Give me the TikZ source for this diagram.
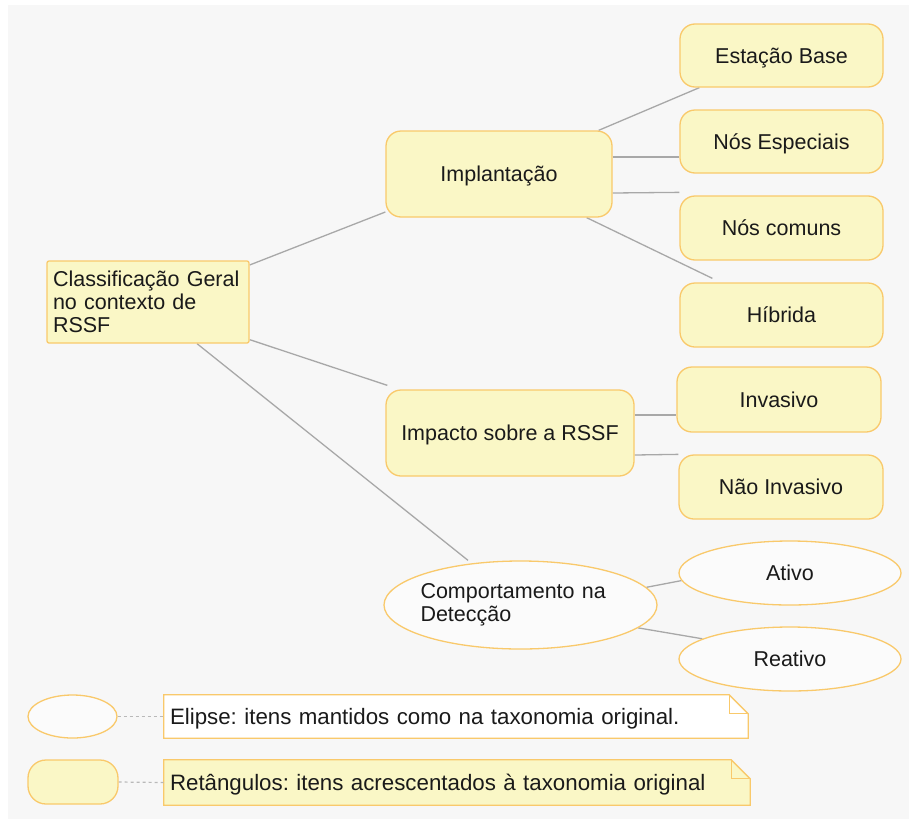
\documentclass[tikz,border=0pt]{standalone}
\usepackage{fontspec}
\setmainfont{Liberation Sans}
\frenchspacing
\usetikzlibrary{shapes.geometric,calc,backgrounds}
\definecolor{panelbg}{HTML}{F7F7F7}
\definecolor{boxfill}{HTML}{FAF7C6}
\definecolor{boxline}{HTML}{F9C96B}
\definecolor{ovalfill}{HTML}{FBFBFB}
\definecolor{linkgray}{HTML}{A8A8A8}
\definecolor{inkdark}{HTML}{1A1A1A}
\begin{document}
\begin{tikzpicture}[x=1pt,y=-1pt,
  every node/.style={font=\fontsize{21.5}{23}\selectfont, text=inkdark, inner sep=0pt},
  oneline/.style={text height=15pt, text depth=0pt},
  roundbox/.style={draw=boxline, fill=boxfill, line width=1.3pt, rounded corners=15pt,
    minimum width=#1, minimum height=64pt, align=center, oneline},
  roundbox/.default=203pt,
  ovalbox/.style={ellipse, draw=boxline, fill=ovalfill, line width=1.3pt},
  notebox/.style={rectangle, minimum height=43pt, inner xsep=6pt, align=left,
    font=\fontsize{22.3}{24}\selectfont, oneline},
  link/.style={draw=linkgray, line width=1.3pt},
  keylink/.style={draw=linkgray!80, line width=1.2pt, dash pattern=on 3pt off 3pt}
]
\useasboundingbox (0,0) rectangle (909,819);
\begin{scope}[on background layer]
  \fill[white] (0,0) rectangle (909,819);
  \fill[panelbg] (8,5) rectangle (909,819);
\end{scope}

% root of the taxonomy
\node[draw=boxline, fill=boxfill, line width=1.3pt, rounded corners=2pt,
      minimum width=202pt, minimum height=82pt, text width=190pt, align=left]
  (root) at (148,302) {Classificação Geral\\no contexto de\\RSSF};

% first level
\node[roundbox=226pt, minimum height=86pt] (impl) at (499,174) {Implantação};
\node[roundbox=248pt, minimum height=86pt] (imp) at (510,433) {Impacto sobre a RSSF};
\node[ovalbox, minimum width=273pt, minimum height=88pt, text width=200pt,
      inner xsep=-4pt, align=left] (comp) at (520.5,605)
  {Comportamento na\\Detecção};

% second level: deployment
\node[roundbox, minimum height=63pt] (est)  at (781.5,55.5)  {Estação Base};
\node[roundbox, minimum height=63pt] (nesp) at (781.5,141.5) {Nós Especiais};
\node[roundbox] (ncom) at (781.5,228) {Nós comuns};
\node[roundbox] (hib)  at (781.5,315) {Híbrida};

% second level: impact
\node[roundbox=204pt, minimum height=65pt] (inv)  at (779,399.5) {Invasivo};
\node[roundbox=204pt] (ninv) at (781,487) {Não Invasivo};

% second level: behaviour
\node[ovalbox, oneline, minimum width=222pt, minimum height=64pt] (ativo) at (790,573) {Ativo};
\node[ovalbox, oneline, minimum width=222pt, minimum height=64pt] (reat)  at (790,659) {Reativo};

% key
\node[ovalbox, minimum width=89pt, minimum height=43pt] (key1) at (72.5,716.5) {};
\node[draw=boxline, fill=boxfill, line width=1.3pt, rounded corners=18pt,
      minimum width=90pt, minimum height=44pt] (key2) at (73,782) {};
\node[notebox, minimum width=584pt, text width=572pt] (n1) at (456,716.5)
  {Elipse: itens mantidos como na taxonomia original.};
\node[notebox, minimum width=586pt, minimum height=45pt, text width=574pt] (n2) at (457,782.5)
  {Retângulos: itens acrescentados à taxonomia original};

\begin{scope}[on background layer]
  % note outlines with folded corner
  \foreach \nn/\nf in {n1/white, n2/boxfill}{
    \draw[boxline, fill=\nf, line width=1.3pt, line join=miter]
      (\nn.north west) -- ($(\nn.north east)+(-19,0)$) -- ($(\nn.north east)+(0,19)$)
      -- (\nn.south east) -- (\nn.south west) -- cycle;
    \draw[boxline, line width=1.3pt]
      ($(\nn.north east)+(-19,0)$) -- ($(\nn.north east)+(-19,19)$) -- ($(\nn.north east)+(0,19)$);
  }
  % connectors
  \path[link] ([yshift=37pt]root.east) -- ([yshift=-38pt]impl.west);
  \path[link] ([yshift=4pt]root.south east) -- ([xshift=2pt,yshift=4pt]imp.north west);
  \path[link] ([xshift=49pt]root.south) -- ([xshift=-52.5pt]comp.north);
  \path[link] ([xshift=-14pt]impl.north east) -- ([xshift=20pt]est.south west);
  \path[link] ([yshift=17pt]impl.east) -- ([yshift=-15.5pt]nesp.west);
  \path[link] ([yshift=-19pt]impl.east) -- ([yshift=3pt]ncom.north west);
  \path[link] ([xshift=-26pt]impl.south east) -- ([xshift=33pt,yshift=4pt]hib.north west);
  \path[link] ([yshift=18pt]imp.east) -- ([yshift=-15.5pt]inv.west);
  \path[link] ([yshift=-22pt]imp.east) -- (ninv.north west);
  \path[link] (comp.8) -- (ativo.184);
  \path[link] (comp.-11) -- (reat.167);
  \path[keylink] (key1.east) -- (n1.west);
  \path[keylink] (key2.east) -- (n2.west);
\end{scope}
\end{tikzpicture}
\end{document}
